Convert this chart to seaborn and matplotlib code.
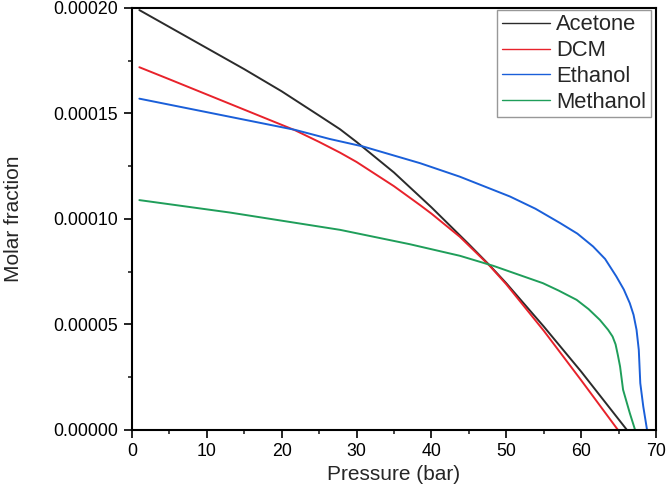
import numpy as np
import pandas as pd
import matplotlib
matplotlib.use("Agg")
import matplotlib.pyplot as plt
from matplotlib.ticker import MultipleLocator, FormatStrFormatter
import seaborn as sns

sns.set_style("ticks")
plt.rcParams['font.family'] = ['Liberation Sans', 'DejaVu Sans']

# values (pressure in bar, molar fraction)
acetone_p = [1, 10, 15, 20, 25, 27.8, 30, 35, 40, 45, 47.8, 50, 55, 60, 66.1]
acetone_x = [0.000199, 0.000181, 0.000171, 0.0001605, 0.000149, 0.0001425,
             0.0001365, 0.000122, 0.0001055, 0.000088, 0.0000779, 0.0000695,
             0.000049, 0.0000276, 0.0]

dcm_p = [1, 5, 10, 21.8, 25, 27.8, 30, 35, 38.5, 40, 43.8, 47.8, 50, 55,
         60, 64.9]
dcm_x = [0.0001719, 0.0001662, 0.000159, 0.000142, 0.0001365, 0.0001314,
         0.000127, 0.0001155, 0.0001065, 0.0001025, 0.0000915, 0.0000777,
         0.000069, 0.000047, 0.0000235, 0.0]

ethanol_p = [1, 10, 21.8, 26.4, 30.9, 38.5, 43.8, 50.5, 53.9, 57.2, 59.5,
             61.6, 63.2, 64.7, 65.7, 66.5, 67.0, 67.4, 67.7, 67.9, 68.3, 68.8]
ethanol_x = [0.000157, 0.0001506, 0.0001422, 0.0001379, 0.0001343, 0.0001264,
             0.00012, 0.0001106, 0.0001048, 0.000098, 0.000093, 0.0000869,
             0.000081, 0.0000727, 0.0000665, 0.00006, 0.0000545, 0.0000474,
             0.0000379, 0.0000221, 0.000011, 0.0]

methanol_p = [1, 13.1, 27.8, 37.1, 43.8, 48.3, 54.9, 57, 59.4, 61, 62.5,
              63.6, 64.2, 64.6, 64.9, 65.2, 65.6, 66.5, 67.2]
methanol_x = [0.0001089, 0.000103, 0.0000948, 0.000088, 0.0000825, 0.0000777,
              0.0000695, 0.000066, 0.0000616, 0.0000572, 0.0000521, 0.0000474,
              0.0000442, 0.0000405, 0.0000355, 0.00003, 0.000019, 0.0000079,
              0.0]

names = ['Acetone', 'DCM', 'Ethanol', 'Methanol']
colors = ['#2b2b2b', '#e8222b', '#1a5fd9', '#1f9e5a']

frames = []
for name, p, x in zip(names, [acetone_p, dcm_p, ethanol_p, methanol_p],
                      [acetone_x, dcm_x, ethanol_x, methanol_x]):
    frames.append(pd.DataFrame({'Pressure': p, 'Fraction': x, 'Solvent': name}))
df = pd.concat(frames, ignore_index=True)

fig = plt.figure(figsize=(6.66, 4.98), dpi=100)
ax = fig.add_axes([0.198, 0.137, 0.787, 0.847])

sns.lineplot(data=df, x='Pressure', y='Fraction', hue='Solvent',
             palette=dict(zip(names, colors)), sort=False, estimator=None,
             linewidth=1.4, ax=ax)

ax.set_xlim(0, 70)
ax.set_ylim(0, 0.0002)
ax.xaxis.set_major_locator(MultipleLocator(10))
ax.xaxis.set_minor_locator(MultipleLocator(5))
ax.yaxis.set_major_locator(MultipleLocator(0.00005))
ax.yaxis.set_minor_locator(MultipleLocator(0.000025))
ax.yaxis.set_major_formatter(FormatStrFormatter('%.5f'))
ax.tick_params(which='major', direction='out', length=5.8, width=1.2,
               labelsize=12.8, colors='black', pad=4)
ax.tick_params(which='minor', direction='out', length=3, width=1.2)
for s in ax.spines.values():
    s.set_linewidth(1.5)
    s.set_color('black')

ax.set_xlabel('Pressure (bar)', fontsize=15, labelpad=3)
ax.set_ylabel('Molar fraction', fontsize=15, labelpad=22)

leg = ax.legend(loc='upper right', bbox_to_anchor=(0.990, 0.995),
                fontsize=15.8, frameon=True, fancybox=False,
                borderaxespad=0, handlelength=2.2, handletextpad=0.3,
                labelspacing=0.22, borderpad=0.2)
leg.get_frame().set_edgecolor('#7f7f7f')
leg.get_frame().set_linewidth(1.0)
for line in leg.get_lines():
    line.set_linewidth(1.0)

fig.savefig('out.png', dpi=100)
